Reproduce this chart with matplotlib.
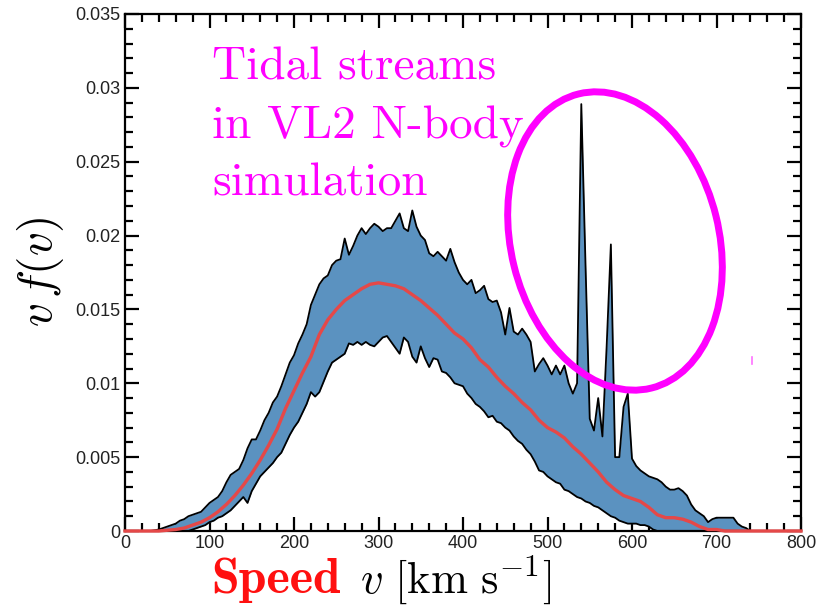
import matplotlib
matplotlib.use("Agg")
import matplotlib.pyplot as plt
from matplotlib.patches import Ellipse
from matplotlib.lines import Line2D
from matplotlib.ticker import MultipleLocator, FuncFormatter
import numpy as np

plt.rcParams['mathtext.fontset'] = 'cm'
plt.rcParams['font.family'] = ['Liberation Sans', 'DejaVu Sans']

# speed grid for the band (km/s), step 5
speed = np.arange(0, 805, 5)

# upper edge of the band, one value per 5 km/s
upper = [
    0, 0, 0, 0, 0, 0, 0, 0.00005, 0.0001, 0.0002,                      # 0-45
    0.0003, 0.0004, 0.0005, 0.0007, 0.0008, 0.0010, 0.0011, 0.0012, 0.0013, 0.0016,  # 50-95
    0.0019, 0.0021, 0.0023, 0.0027, 0.0033, 0.0038, 0.0040, 0.0042, 0.0048, 0.0056,  # 100-145
    0.0062, 0.0062, 0.0068, 0.0075, 0.0080, 0.0087, 0.0091, 0.0098, 0.0106, 0.0114,  # 150-195
    0.0119, 0.0127, 0.0133, 0.0140, 0.0153, 0.0160, 0.0167, 0.0171, 0.0173, 0.0180,  # 200-245
    0.0183, 0.0184, 0.0198, 0.0187, 0.0193, 0.0200, 0.0205, 0.0201, 0.0205, 0.0208,  # 250-295
    0.0206, 0.0203, 0.0205, 0.0205, 0.0210, 0.0215, 0.0205, 0.0203, 0.0217, 0.0206,  # 300-345
    0.0200, 0.0197, 0.0188, 0.0186, 0.0189, 0.0186, 0.0183, 0.0191, 0.0182, 0.0175,  # 350-395
    0.0170, 0.0167, 0.0170, 0.0161, 0.0163, 0.0166, 0.0157, 0.0155, 0.0156, 0.0148,  # 400-445
    0.0133, 0.0151, 0.0135, 0.0133, 0.0137, 0.0133, 0.0128, 0.0108, 0.0113, 0.0117,  # 450-495
    0.0112, 0.0106, 0.0112, 0.0106, 0.0112, 0.0100, 0.0093, 0.0100, 0.0289, 0.0180,  # 500-545
    0.0076, 0.0068, 0.0090, 0.0064, 0.0125, 0.0194, 0.0050, 0.0050, 0.0084, 0.0093,  # 550-595
    0.0049, 0.0044, 0.0041, 0.0039, 0.0037, 0.0036, 0.0035, 0.0033, 0.0030, 0.0028,  # 600-645
    0.0028, 0.0029, 0.0027, 0.0024, 0.0018, 0.0014, 0.0012, 0.0010, 0.0006, 0.0008,  # 650-695
    0.0009, 0.0009, 0.0009, 0.0009, 0.0009, 0.0005, 0.0003, 0.0002, 0, 0,            # 700-745
    0, 0, 0, 0, 0, 0, 0, 0, 0, 0,                                       # 750-795
    0,                                                                  # 800
]

# lower edge of the band
lower = [
    0, 0, 0, 0, 0, 0, 0, 0, 0, 0,                                       # 0-45
    0, 0, 0, 0, 0, 0, 0.0001, 0.0002, 0.0003, 0.0004,                   # 50-95
    0.0006, 0.0007, 0.0009, 0.0010, 0.0012, 0.0014, 0.0017, 0.0020, 0.0023, 0.0019,  # 100-145
    0.0027, 0.0032, 0.0037, 0.0040, 0.0043, 0.0046, 0.0050, 0.0053, 0.0059, 0.0065,  # 150-195
    0.0070, 0.0074, 0.0080, 0.0086, 0.0094, 0.0091, 0.0094, 0.0101, 0.0108, 0.0114,  # 200-245
    0.0116, 0.0118, 0.0120, 0.0127, 0.0126, 0.0128, 0.0126, 0.0128, 0.0126, 0.0125,  # 250-295
    0.0128, 0.0131, 0.0132, 0.0128, 0.0124, 0.0120, 0.0131, 0.0128, 0.0118, 0.0114,  # 300-345
    0.0125, 0.0117, 0.0111, 0.0117, 0.0116, 0.0108, 0.0107, 0.0104, 0.0100, 0.0099,  # 350-395
    0.0098, 0.0093, 0.0090, 0.0086, 0.0084, 0.0081, 0.0077, 0.0078, 0.0074, 0.0073,  # 400-445
    0.0070, 0.0068, 0.0064, 0.0061, 0.0059, 0.0055, 0.0052, 0.0047, 0.0041, 0.0040,  # 450-495
    0.0037, 0.0035, 0.0033, 0.0032, 0.0028, 0.0027, 0.0025, 0.0023, 0.0022, 0.0020,  # 500-545
    0.0019, 0.0017, 0.0016, 0.0014, 0.0012, 0.0010, 0.0009, 0.0007, 0.0006, 0.0005,  # 550-595
    0.0005, 0.0005, 0.0004, 0.0004, 0.0003, 0.0001, 0, 0, 0, 0,         # 600-645
    0, 0, 0, 0, 0, 0, 0, 0, 0, 0,                                       # 650-695
    0, 0, 0, 0, 0, 0, 0, 0, 0, 0,                                       # 700-745
    0, 0, 0, 0, 0, 0, 0, 0, 0, 0,                                       # 750-795
    0,                                                                  # 800
]

# median curve, step 10 km/s
speed_med = np.arange(0, 810, 10)
median = [
    0, 0, 0, 0, 0, 0.00005, 0.0001, 0.0002, 0.0004, 0.0006,             # 0-90
    0.0009, 0.0013, 0.0018, 0.0024, 0.0031, 0.0039, 0.0048, 0.0058, 0.0069, 0.0083,  # 100-190
    0.0095, 0.0107, 0.0118, 0.0133, 0.0143, 0.0150, 0.0156, 0.0160, 0.0164, 0.0167,  # 200-290
    0.0168, 0.0167, 0.0166, 0.0164, 0.0160, 0.0156, 0.0151, 0.0146, 0.0140, 0.0134,  # 300-390
    0.0130, 0.0124, 0.0116, 0.0111, 0.0104, 0.0098, 0.0093, 0.0087, 0.0082, 0.0075,  # 400-490
    0.0070, 0.0067, 0.0063, 0.0057, 0.0052, 0.0046, 0.0040, 0.0033, 0.0028, 0.0024,  # 500-590
    0.0022, 0.0020, 0.0016, 0.0011, 0.0009, 0.0009, 0.0008, 0.0006, 0.0003, 0.0001,  # 600-690
    0.0001, 0, 0, 0, 0, 0, 0, 0, 0, 0,                                  # 700-790
    0,                                                                  # 800
]

note_lines = ['Tidal streams', 'in VL2 N-body', 'simulation']

fig = plt.figure(figsize=(8.19, 6.06), dpi=100)
ax = fig.add_axes([125 / 819, 75 / 606, 676 / 819, 517 / 606])

band_color = '#5b92c0'
ax.fill_between(speed, lower, upper, color=band_color, lw=0, zorder=2)
ax.plot(speed, upper, color='black', lw=1.3, zorder=3)
ax.plot(speed, lower, color='black', lw=1.3, zorder=3)
ax.plot(speed_med, median, color='#e54848', lw=2.4, zorder=4, clip_on=False)

ax.set_xlim(0, 800)
ax.set_ylim(0, 0.035)

ax.xaxis.set_major_locator(MultipleLocator(100))
ax.xaxis.set_minor_locator(MultipleLocator(20))
ax.yaxis.set_major_locator(MultipleLocator(0.005))
ax.yaxis.set_minor_locator(MultipleLocator(0.001))
ax.yaxis.set_major_formatter(FuncFormatter(lambda y, pos: '%g' % round(y, 4)))

ax.tick_params(which='both', direction='in', top=True, right=True, width=1.6,
               labelsize=13, labelcolor='#222222')
ax.tick_params(which='major', length=10)
ax.tick_params(which='minor', length=6)
ax.tick_params(axis='x', pad=3)
ax.tick_params(axis='y', pad=3)
for s in ax.spines.values():
    s.set_linewidth(1.6)

# axis labels
fig.text(40 / 819, 1 - 272 / 606, r'$v\,f(v)$', rotation=90, fontsize=34,
         ha='center', va='center')
fig.text(211 / 819, 1 - 593 / 606, 'Speed', family='cmb10', color='#ff1010',
         fontsize=36, ha='left', va='baseline')
fig.text(360 / 819, 1 - 593 / 606, r'$v\ [\mathrm{km\ s^{-1}}]$', fontsize=32,
         ha='left', va='baseline')

# annotation, one line at a time
for i, line in enumerate(note_lines):
    fig.text(212 / 819, 1 - (80 + 58 * i) / 606, line, family='cmr10',
             color='#ff00ff', fontsize=34, ha='left', va='baseline')

ring = Ellipse((6.15, 3.65), 2.08, 3.03, angle=13.9, fill=False,
               ec='#ff00ff', lw=5, transform=fig.dpi_scale_trans, zorder=10)
fig.add_artist(ring)
fig.add_artist(Line2D([752 / 819, 752 / 819], [1 - 357 / 606, 1 - 364 / 606],
                      color='#ff70ff', lw=1.2))

fig.savefig('out.png', dpi=100)
